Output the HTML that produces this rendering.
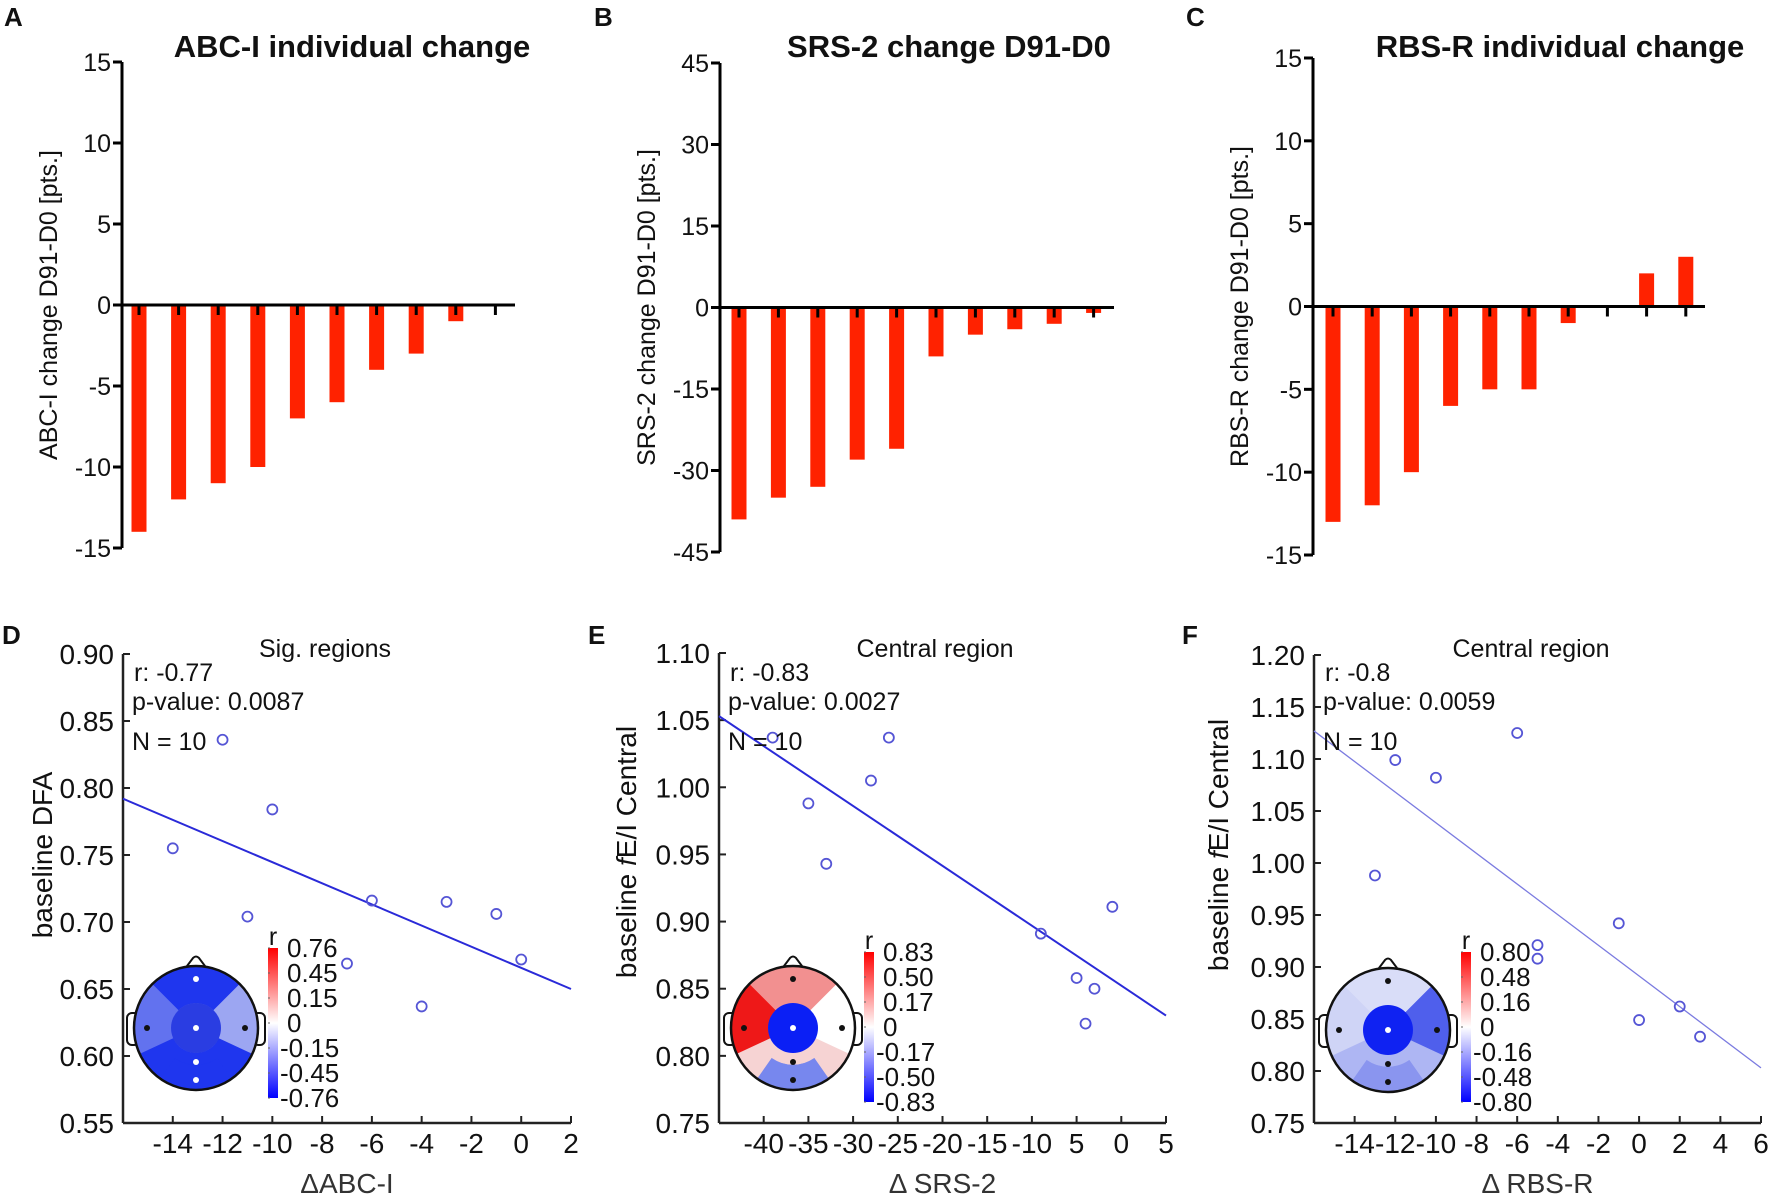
<!DOCTYPE html>
<html><head><meta charset="utf-8"><style>
html,body{margin:0;padding:0;background:#fff;}
svg{display:block;font-family:"Liberation Sans",Arial,sans-serif;}
</style></head><body>
<svg id="fig" width="1772" height="1200" viewBox="0 0 1772 1200"></svg>
<script>
// ---------- Data ----------
const barCatsA = [1,2,3,4,5,6,7,8,9,10];
const barValsA = [-14,-12,-11,-10,-7,-6,-4,-3,-1,0];
const barTicksA = [15,10,5,0,-5,-10,-15];
const barValsB = [-39,-35,-33,-28,-26,-9,-5,-4,-3,-1];
const barTicksB = [45,30,15,0,-15,-30,-45];
const barValsC = [-13,-12,-10,-6,-5,-5,-1,0,2,3];
const barTicksC = [15,10,5,0,-5,-10,-15];

const scatXD = [-14,-12,-11,-10,-7,-6,-4,-3,-1,0];
const scatYD = [0.755,0.836,0.704,0.784,0.669,0.716,0.637,0.715,0.706,0.672];
const fitD = [[-16,0.792],[2,0.650]];
const xTicksD = [-14,-12,-10,-8,-6,-4,-2,0,2];
const xTickLabelsD = ["-14","-12","-10","-8","-6","-4","-2","0","2"];
const yTicksD = [0.90,0.85,0.80,0.75,0.70,0.65,0.60,0.55];

const scatXE = [-39,-35,-33,-28,-26,-9,-5,-4,-3,-1];
const scatYE = [1.037,0.988,0.943,1.005,1.037,0.891,0.858,0.824,0.850,0.911];
const fitE = [[-45,1.053],[5,0.830]];
const xTicksE = [-40,-35,-30,-25,-20,-15,-10,-5,0,5];
const xTickLabelsE = ["-40","-35","-30","-25","-20","-15","-10","5","0","5"];
const yTicksE = [1.10,1.05,1.00,0.95,0.90,0.85,0.80,0.75];

const scatXF = [-13,-12,-10,-6,-5,-5,-1,0,2,3];
const scatYF = [0.988,1.099,1.082,1.125,0.921,0.908,0.942,0.849,0.862,0.833];
const fitF = [[-16,1.127],[6,0.803]];
const xTicksF = [-14,-12,-10,-8,-6,-4,-2,0,2,4,6];
const xTickLabelsF = ["-14","-12","-10","-8","-6","-4","-2","0","2","4","6"];
const yTicksF = [1.20,1.15,1.10,1.05,1.00,0.95,0.90,0.85,0.80,0.75];

const cbLabelsD = ["0.76","0.45","0.15","0","-0.15","-0.45","-0.76"];
const cbLabelsE = ["0.83","0.50","0.17","0","-0.17","-0.50","-0.83"];
const cbLabelsF = ["0.80","0.48","0.16","0","-0.16","-0.48","-0.80"];

// ---------- helpers ----------
const NS="http://www.w3.org/2000/svg";
const svg=document.getElementById('fig');
function mk(tag,attrs,parent){const e=document.createElementNS(NS,tag);for(const k in attrs)e.setAttribute(k,attrs[k]);(parent||svg).appendChild(e);return e;}
function txt(s,attrs,parent){const e=mk('text',attrs,parent);e.textContent=s;return e;}

const defs=mk('defs',{});
const grad=mk('linearGradient',{id:'cbg',x1:'0',y1:'0',x2:'0',y2:'1'},defs);
mk('stop',{offset:'0','stop-color':'#ff0000'},grad);
mk('stop',{offset:'0.5','stop-color':'#ffffff'},grad);
mk('stop',{offset:'1','stop-color':'#0000ff'},grad);

// ---------- Bar charts ----------
function barChart(o){
  const g=mk('g',{});
  
  
  const yScale=v=>o.y0+(o.yMax-v)/(o.yMax-o.yMin)*(o.y1-o.y0);
  const xScale=i=>o.bx0+i*o.step;
  const zero=yScale(0);
  o.vals.forEach((v,i)=>{
    const y=Math.min(yScale(v),zero), h=Math.abs(yScale(v)-zero);
    const r=mk('rect',{x:xScale(i)-7.5,y:y,width:15,height:h,fill:'#ff2200'},g);
    
    
  });
  const ya=mk('line',{x1:o.ax,y1:yScale(o.yMax),x2:o.ax,y2:yScale(o.yMin),stroke:'#000','stroke-width':3},g);
  
  
  const xa=mk('line',{x1:o.ax-1.5,y1:zero,x2:o.axEnd,y2:zero,stroke:'#000','stroke-width':3},g);
  
  
  o.vals.forEach((v,i)=>{
    const t=mk('line',{x1:xScale(i),y1:zero,x2:xScale(i),y2:zero+10,stroke:'#000','stroke-width':3},g);
    
    
  });
  o.ticks.forEach(v=>{
    const y=yScale(v);
    const t=mk('line',{x1:o.ax-9,y1:y,x2:o.ax,y2:y,stroke:'#000','stroke-width':3},g);
    
    
    const l=txt(String(v),{x:o.ax-11,y:y+9,'text-anchor':'end','font-size':25,fill:'#111'},g);
    
    
  });
  const tt=txt(o.title,{x:o.titleX,y:57,'text-anchor':'middle','font-size':31,'font-weight':'bold',fill:'#111'},g);
  
  
  const yl=txt(o.ylabel,{x:0,y:0,'text-anchor':'middle','font-size':25,fill:'#111',transform:`translate(${o.ax-65},${yScale(0)}) rotate(-90)`},g);
  
  
  const pl=txt(o.letter,{x:o.lx,y:26,'font-size':26,'font-weight':'bold',fill:'#111'},g);
  
  
}
barChart({name:'panel-a-bar-chart',vals:barValsA,ticks:barTicksA,yMax:15,yMin:-15,y0:62,y1:548,ax:122,axEnd:515,bx0:139,step:39.6,title:'ABC-I individual change',titleX:352,ylabel:'ABC-I change D91-D0 [pts.]',letter:'A',lx:4});
barChart({name:'panel-b-bar-chart',vals:barValsB,ticks:barTicksB,yMax:45,yMin:-45,y0:63,y1:552,ax:720,axEnd:1114,bx0:739,step:39.4,title:'SRS-2 change D91-D0',titleX:949,ylabel:'SRS-2 change D91-D0 [pts.]',letter:'B',lx:594});
barChart({name:'panel-c-bar-chart',vals:barValsC,ticks:barTicksC,yMax:15,yMin:-15,y0:58,y1:555,ax:1313,axEnd:1705,bx0:1333,step:39.2,title:'RBS-R individual change',titleX:1560,ylabel:'RBS-R change D91-D0 [pts.]',letter:'C',lx:1186});

// ---------- Scatter charts ----------
function scatter(o){
  const g=mk('g',{});
  
  
  const X=v=>o.x0+(v-o.xMin)/(o.xMax-o.xMin)*(o.x1-o.x0);
  const Y=v=>o.y1-(v-o.yMin)/(o.yMax-o.yMin)*(o.y1-o.y0);
  const ya=mk('line',{x1:o.x0,y1:o.y0,x2:o.x0,y2:o.y1,stroke:'#222','stroke-width':2.5},g);
  
  
  const xa=mk('line',{x1:o.x0,y1:o.y1,x2:o.x1,y2:o.y1,stroke:'#222','stroke-width':2.5},g);
  
  
  o.yTicks.forEach(v=>{
    const y=Y(v);
    const t=mk('line',{x1:o.x0,y1:y,x2:o.x0+7,y2:y,stroke:'#222','stroke-width':2},g);
    
    
    const l=txt(v.toFixed(2),{x:o.x0-9,y:y+10,'text-anchor':'end','font-size':28,fill:'#111'},g);
    
    
  });
  o.xTicks.forEach((v,i)=>{
    const x=X(v);
    const t=mk('line',{x1:x,y1:o.y1,x2:x,y2:o.y1-7,stroke:'#222','stroke-width':2},g);
    
    
    const l=txt(o.xLabels[i],{x:x,y:o.y1+30,'text-anchor':'middle','font-size':28,fill:'#111'},g);
    
    
  });
  const fl=mk('line',{x1:X(o.fit[0][0]),y1:Y(o.fit[0][1]),x2:X(o.fit[1][0]),y2:Y(o.fit[1][1]),stroke:o.lineColor,'stroke-width':o.lineW},g);
  
  
  o.xs.forEach((v,i)=>{
    const c=mk('circle',{cx:X(v),cy:Y(o.ys[i]),r:5,fill:'none',stroke:'#5555d5','stroke-width':1.8},g);
    
    
  });
  const tt=txt(o.title,{x:o.titleX,y:657,'text-anchor':'middle','font-size':25,fill:'#111'},g);
  
  
  const s1=txt(o.stats[0],{x:o.x0+11,y:681,'font-size':25,fill:'#111'},g);
  
  
  const s2=txt(o.stats[1],{x:o.x0+9,y:710,'font-size':25,fill:'#111'},g);
  
  
  const s3=txt(o.stats[2],{x:o.x0+9,y:750,'font-size':25,fill:'#111'},g);
  
  
  const xl=txt(o.xlabel,{x:(o.x0+o.x1)/2,y:1193,'text-anchor':'middle','font-size':28,fill:'#333'},g);
  
  
  const yl=mk('text',{x:0,y:0,'text-anchor':'middle','font-size':28,fill:'#111',transform:`translate(${o.ylx},${o.yly}) rotate(-90)`},g);
  
  
  o.ylabel.forEach(p=>{const ts=mk('tspan',p.italic?{'font-style':'italic'}:{},yl);ts.textContent=p.t;});
  const pl=txt(o.letter,{x:o.lx,y:644,'font-size':26,'font-weight':'bold',fill:'#111'},g);
  
  
}
scatter({name:'panel-d-scatter',xs:scatXD,ys:scatYD,fit:fitD,xTicks:xTicksD,xLabels:xTickLabelsD,yTicks:yTicksD,
  xMin:-16,xMax:2,yMin:0.55,yMax:0.90,x0:123,x1:571,y0:654,y1:1123,lineColor:'#2a2ad8',lineW:2,
  title:'Sig. regions',titleX:325,stats:['r: -0.77','p-value: 0.0087','N = 10'],xlabel:'\u0394ABC-I',
  ylabel:[{t:'baseline DFA'}],ylx:52,yly:855,letter:'D',lx:2});
scatter({name:'panel-e-scatter',xs:scatXE,ys:scatYE,fit:fitE,xTicks:xTicksE,xLabels:xTickLabelsE,yTicks:yTicksE,
  xMin:-45,xMax:5,yMin:0.75,yMax:1.10,x0:719,x1:1166,y0:653,y1:1123,lineColor:'#2a2ad8',lineW:2,
  title:'Central region',titleX:935,stats:['r: -0.83','p-value: 0.0027','N = 10'],xlabel:'\u0394 SRS-2',
  ylabel:[{t:'baseline  '},{t:'f',italic:true},{t:'E/I Central'}],ylx:636,yly:852,letter:'E',lx:588});
scatter({name:'panel-f-scatter',xs:scatXF,ys:scatYF,fit:fitF,xTicks:xTicksF,xLabels:xTickLabelsF,yTicks:yTicksF,
  xMin:-16,xMax:6,yMin:0.75,yMax:1.20,x0:1314,x1:1761,y0:655,y1:1123,lineColor:'#7b7be0',lineW:1.3,
  title:'Central region',titleX:1531,stats:['r: -0.8','p-value: 0.0059','N = 10'],xlabel:'\u0394 RBS-R',
  ylabel:[{t:'baseline  '},{t:'f',italic:true},{t:'E/I Central'}],ylx:1228,yly:845,letter:'F',lx:1182});

// ---------- Head topoplots ----------
function pt(cx,cy,r,a){const t=a*Math.PI/180;return [cx+r*Math.cos(t),cy-r*Math.sin(t)];}
function sector(cx,cy,r1,r2,a1,a2){
  const large=(a2-a1)>180?1:0;
  const o1=pt(cx,cy,r2,a1),o2=pt(cx,cy,r2,a2),i2=pt(cx,cy,r1,a2),i1=pt(cx,cy,r1,a1);
  return `M${o1[0]},${o1[1]} A${r2},${r2} 0 ${large} 0 ${o2[0]},${o2[1]} L${i2[0]},${i2[1]} A${r1},${r1} 0 ${large} 1 ${i1[0]},${i1[1]} Z`;
}
function head(o){
  const g=mk('g',{});
  
  
  const cx=o.cx,cy=o.cy,R=62;
  const el=mk('rect',{x:cx-69,y:cy-15,width:12,height:32,rx:5,fill:'#fff',stroke:'#111','stroke-width':2},g);
  
  
  const er=mk('rect',{x:cx+57,y:cy-15,width:12,height:32,rx:5,fill:'#fff',stroke:'#111','stroke-width':2},g);
  
  
  const ns=mk('path',{d:`M${cx-12},${cy-58} L${cx-3},${cy-70} Q${cx},${cy-73} ${cx+3},${cy-70} L${cx+12},${cy-58} Z`,fill:'#fff',stroke:'#111','stroke-width':2},g);
  
  
  const regions=[
    ['frontal-region',sector(cx,cy,25,R,45,135),o.c.front],
    ['left-temporal-region',sector(cx,cy,25,R,135,205),o.c.left],
    ['right-temporal-region',sector(cx,cy,25,R,-25,45),o.c.right],
    ['parietal-region',sector(cx,cy,25,R,205,335),o.c.par],
    ['occipital-region',sector(cx,cy,37,R,235,305),o.c.occ]
  ];
  regions.forEach(r=>{
    const p=mk('path',{d:r[1],fill:r[2],stroke:r[2],'stroke-width':0.6},g);
    
    
  });
  const cc=mk('circle',{cx:cx,cy:cy,r:25,fill:o.c.center},g);
  
  
  const ol=mk('circle',{cx:cx,cy:cy,r:R,fill:'none',stroke:'#111','stroke-width':2.5},g);
  
  
  const el2=[[0,-49,o.d[0]],[-49,0,o.d[1]],[49,0,o.d[2]],[0,0,o.d[3]],[0,34,o.d[4]],[0,52,o.d[5]]];
  el2.forEach(e=>{
    const d=mk('circle',{cx:cx+e[0],cy:cy+e[1],r:3,fill:e[2]},g);
    
    
  });
  const cb=mk('rect',{x:o.cbx,y:o.cby0,width:10,height:o.cby1-o.cby0,fill:'url(#cbg)'},g);
  
  
  const rl=txt('r',{x:o.cbx+5,y:o.cby0-3,'text-anchor':'middle','font-size':25,fill:'#111'},g);
  
  
  o.labels.forEach((s,i)=>{
    const y=o.cby0+i*(o.cby1-o.cby0)/(o.labels.length-1);
    const t=mk('line',{x1:o.cbx,y1:y,x2:o.cbx+2,y2:y,stroke:'#666','stroke-width':1},g);
    
    
    const l=txt(s,{x:o.cbx+(s[0]==='-'?12:19),y:y+9,'font-size':26,fill:'#111'},g);
    
    
  });
}
head({name:'topoplot-d',cx:196,cy:1028,cbx:268,cby0:948,cby1:1098,labels:cbLabelsD,
  c:{front:'#1f36ee',left:'#6272ef',right:'#9ca6f2',par:'#1f36ee',occ:'#1f36ee',center:'#2a3de2'},
  d:['#fff','#111','#111','#fff','#fff','#fff']});
head({name:'topoplot-e',cx:793,cy:1028,cbx:864,cby0:952,cby1:1102,labels:cbLabelsE,
  c:{front:'#f29090',left:'#ee1818',right:'#ffffff',par:'#f6d3d3',occ:'#7787ee',center:'#0b1ff5'},
  d:['#111','#111','#111','#fff','#111','#111']});
head({name:'topoplot-f',cx:1388,cy:1030,cbx:1461,cby0:952,cby1:1102,labels:cbLabelsF,
  c:{front:'#d9ddf8',left:'#cfd4f6',right:'#4f5fec',par:'#aeb6f3',occ:'#8a95ef',center:'#0f22f2'},
  d:['#111','#111','#111','#fff','#111','#111']});
</script>
</body></html>
